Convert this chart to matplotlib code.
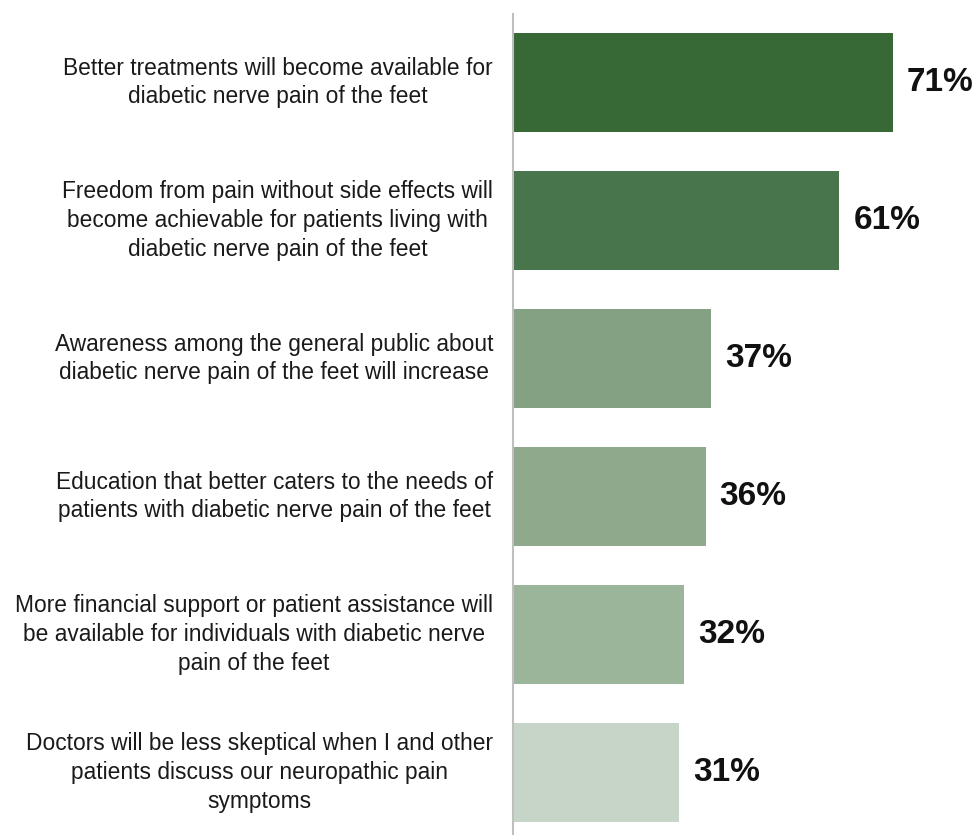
import matplotlib.pyplot as plt
from matplotlib.transforms import offset_copy

plt.rcParams['font.family'] = ['Liberation Sans', 'DejaVu Sans']

statements = [
    "Better treatments will become available for\ndiabetic nerve pain of the feet",
    "Freedom from pain without side effects will\nbecome achievable for patients living with\ndiabetic nerve pain of the feet",
    "Awareness among the general public about\ndiabetic nerve pain of the feet will increase",
    "Education that better caters to the needs of\npatients with diabetic nerve pain of the feet",
    "More financial support or patient assistance will\nbe available for individuals with diabetic nerve\npain of the feet",
    "Doctors will be less skeptical when I and other\npatients discuss our neuropathic pain\nsymptoms",
]
percent = [71, 61, 37, 36, 32, 31]
bar_colors = ["#366936", "#48754b", "#84a283", "#8ea98b", "#9bb59b", "#c6d5c8"]

fig = plt.figure(figsize=(9.72, 8.35), dpi=100)
W, H = 972, 835
ax = fig.add_axes([513 / W, 0, 1 - 513 / W, 1 - 14 / H])

ypos = list(range(len(percent)))
ax.barh(ypos, percent, height=0.717, color=bar_colors, edgecolor="none")

ax.set_xlim(0, 85.8)
ax.set_ylim(5 + 62.5 / 138, -68.5 / 138)

for s in ["top", "right", "bottom"]:
    ax.spines[s].set_visible(False)
ax.spines["left"].set_color("#bfbfbf")
ax.spines["left"].set_linewidth(1.5)
ax.set_xticks([])
ax.set_yticks([])

# value labels just past the bar ends
for y, v in zip(ypos, percent):
    tr = offset_copy(ax.transData, fig=fig, x=14, y=0, units="dots")
    ax.text(v, y, f"{v}%", transform=tr, ha="left", va="center",
            fontsize=24, fontweight="bold", color="#111111")

# category labels to the left of the axis
lab_tr = offset_copy(ax.get_yaxis_transform(), fig=fig, x=-20, y=0, units="dots")
for y, txt in zip(ypos, statements):
    ax.text(0, y, txt, transform=lab_tr, ha="right", va="center",
            multialignment="center", fontsize=16.4, color="#1a1a1a",
            linespacing=1.32)

fig.savefig("out.png", dpi=100)
